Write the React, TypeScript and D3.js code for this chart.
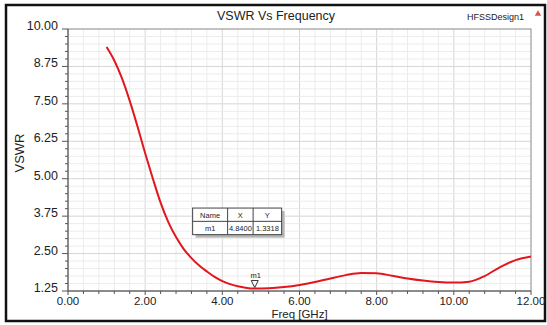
import React, { useRef, useEffect } from "react";
import * as d3 from "d3";

// Curve (Freq in GHz, VSWR)
const freqs = [
  1.0, 1.2, 1.4, 1.6, 1.8, 2.0, 2.2, 2.4, 2.6, 2.8, 3.0, 3.2, 3.4, 3.6, 3.8,
  4.0, 4.2, 4.4, 4.6, 4.84, 5.2, 5.6, 6.0, 6.4, 6.8, 7.2, 7.6, 8.0, 8.4, 8.8,
  9.2, 9.6, 10.0, 10.4, 10.8, 11.2, 11.6, 12.0,
];
const vswr = [
  9.4, 8.95, 8.35, 7.6, 6.75, 5.85, 5.0, 4.2, 3.55, 3.05, 2.65, 2.35, 2.1, 1.9,
  1.72, 1.58, 1.48, 1.41, 1.36, 1.33, 1.34, 1.38, 1.45, 1.55, 1.67, 1.78, 1.85,
  1.84, 1.76, 1.67, 1.6, 1.55, 1.53, 1.56, 1.75, 2.05, 2.28, 2.4,
];

const xTicks = [0, 2, 4, 6, 8, 10, 12];
const yTicks = [1.25, 2.5, 3.75, 5.0, 6.25, 7.5, 8.75, 10.0];

const marker = { name: "m1", x: 4.84, y: 1.3318 };
const tableHeader = ["Name", "X", "Y"];
const tableRow = [marker.name, marker.x.toFixed(4), marker.y.toFixed(4)];

const FONT = "'Liberation Sans', Arial, sans-serif";

export default function App() {
  const svgRef = useRef<SVGSVGElement>(null);

  useEffect(() => {
    if (!svgRef.current) return;
    const svg = d3.select(svgRef.current);
    svg.selectAll("*").remove();

    const width = 547;
    const height = 325;
    const margin = { top: 29, right: 16, bottom: 34, left: 68 };
    const innerWidth = width - margin.left - margin.right;
    const innerHeight = height - margin.top - margin.bottom;

    // outer frame
    svg.append("rect")
      .attr("x", 6).attr("y", 5)
      .attr("width", 539).attr("height", 316)
      .attr("fill", "#fff")
      .attr("stroke", "#111").attr("stroke-width", 2.5);

    const xScale = d3.scaleLinear().domain([0, 12]).range([0, innerWidth]);
    const yScale = d3.scaleLinear().domain([1.25, 10]).range([innerHeight, 0]);

    const g = svg.append("g")
      .attr("transform", `translate(${margin.left},${margin.top})`);

    // grid (minor every 0.4 GHz / 0.25, major every 2 GHz / 1.25)
    const xMinor = d3.range(0, 12.001, 0.4);
    const yMinor = d3.range(1.25, 10.001, 0.25);

    g.selectAll(".xgrid").data(xMinor).enter().append("line")
      .attr("x1", d => xScale(d)).attr("x2", d => xScale(d))
      .attr("y1", 0).attr("y2", innerHeight)
      .attr("stroke", (d, i) => (i % 5 === 0 ? "#d6d6d6" : "#ececec"))
      .attr("stroke-width", 1);

    g.selectAll(".ygrid").data(yMinor).enter().append("line")
      .attr("x1", 0).attr("x2", innerWidth)
      .attr("y1", d => yScale(d)).attr("y2", d => yScale(d))
      .attr("stroke", (d, i) => (i % 5 === 0 ? "#d6d6d6" : "#ececec"))
      .attr("stroke-width", 1);

    // plot border
    g.append("rect")
      .attr("width", innerWidth).attr("height", innerHeight)
      .attr("fill", "none").attr("stroke", "#9a9a9a");

    // axes lines
    g.append("line").attr("x1", 0).attr("x2", 0).attr("y1", 0).attr("y2", innerHeight)
      .attr("stroke", "#555");
    g.append("line").attr("x1", 0).attr("x2", innerWidth).attr("y1", innerHeight).attr("y2", innerHeight)
      .attr("stroke", "#555");

    // y ticks
    g.selectAll(".ytick").data(yMinor).enter().append("line")
      .attr("x1", (d, i) => (i % 5 === 0 ? -6 : -3)).attr("x2", 0)
      .attr("y1", d => yScale(d)).attr("y2", d => yScale(d))
      .attr("stroke", "#555");

    // x ticks
    g.selectAll(".xtick").data(xMinor).enter().append("line")
      .attr("x1", d => xScale(d)).attr("x2", d => xScale(d))
      .attr("y1", innerHeight).attr("y2", (d, i) => innerHeight + (i % 5 === 0 ? 4 : 3))
      .attr("stroke", "#555");

    // tick labels
    g.selectAll(".ylab").data(yTicks).enter().append("text")
      .attr("x", -10).attr("y", d => yScale(d) + 1)
      .attr("text-anchor", "end")
      .style("font-family", FONT).style("font-size", "12.5px").style("fill", "#222")
      .text(d => d.toFixed(2));

    g.selectAll(".xlab").data(xTicks).enter().append("text")
      .attr("x", d => xScale(d)).attr("y", innerHeight + 13.5)
      .attr("text-anchor", "middle")
      .style("font-family", FONT).style("font-size", "11.5px").style("fill", "#222")
      .text(d => d.toFixed(2));

    // axis titles
    g.append("text")
      .attr("x", innerWidth / 2).attr("y", innerHeight + 26.5)
      .attr("text-anchor", "middle")
      .style("font-family", FONT).style("font-size", "11.5px").style("fill", "#222")
      .text("Freq [GHz]");

    g.append("text")
      .attr("transform", "rotate(-90)")
      .attr("x", -innerHeight / 2 + 7).attr("y", -44)
      .attr("text-anchor", "middle")
      .style("font-family", FONT).style("font-size", "13px").style("fill", "#222")
      .text("VSWR");

    // title and design name
    svg.append("text")
      .attr("x", 276).attr("y", 20)
      .attr("text-anchor", "middle")
      .style("font-family", FONT).style("font-size", "12.5px").style("fill", "#222")
      .text("VSWR Vs Frequency");

    svg.append("text")
      .attr("x", 524).attr("y", 20)
      .attr("text-anchor", "end")
      .style("font-family", FONT).style("font-size", "9px").style("fill", "#222")
      .text("HFSSDesign1");

    svg.append("path")
      .attr("d", d3.symbol(d3.symbolTriangle, 18)())
      .attr("transform", "translate(538,14)")
      .attr("fill", "#d9534f");

    // curve
    const pts = freqs.map((f, i) => [f, vswr[i]] as [number, number]);
    const line = d3.line<[number, number]>()
      .x(d => xScale(d[0]))
      .y(d => yScale(d[1]))
      .curve(d3.curveMonotoneX);

    g.append("path")
      .datum(pts)
      .attr("fill", "none")
      .attr("stroke", "#e3161d")
      .attr("stroke-width", 2)
      .attr("d", line);

    // marker m1
    const mx = xScale(marker.x);
    const my = yScale(marker.y);
    g.append("path")
      .attr("d", `M${mx - 3.5},${my - 8}L${mx + 3.5},${my - 8}L${mx},${my - 1}Z`)
      .attr("fill", "#fff").attr("stroke", "#333").attr("stroke-width", 1);
    g.append("text")
      .attr("x", mx + 1).attr("y", my - 11)
      .attr("text-anchor", "middle")
      .style("font-family", FONT).style("font-size", "7.5px").style("fill", "#222")
      .text(marker.name);

    // marker table
    const tx = xScale(3.23), ty = yScale(4.02);
    const colW = [35, 25.5, 28.5];
    const rowH = 13.3;
    const tw = d3.sum(colW);
    const table = g.append("g").attr("transform", `translate(${tx},${ty})`);
    table.append("rect")
      .attr("x", 3).attr("y", 3).attr("width", tw).attr("height", rowH * 2)
      .attr("fill", "#b5b5b5");
    table.append("rect")
      .attr("width", tw).attr("height", rowH * 2)
      .attr("fill", "#fff").attr("stroke", "#444").attr("stroke-width", 1);
    table.append("line")
      .attr("x1", 0).attr("x2", tw).attr("y1", rowH).attr("y2", rowH)
      .attr("stroke", "#444");
    let cx = 0;
    colW.forEach((w, i) => {
      if (i > 0) {
        table.append("line")
          .attr("x1", cx).attr("x2", cx).attr("y1", 0).attr("y2", rowH * 2)
          .attr("stroke", "#444");
      }
      [tableHeader[i], tableRow[i]].forEach((t, r) => {
        table.append("text")
          .attr("x", cx + w / 2).attr("y", r * rowH + 9.5)
          .attr("text-anchor", "middle")
          .style("font-family", FONT).style("font-size", "7.5px").style("fill", "#222")
          .text(t);
      });
      cx += w;
    });
  }, []);

  return (
    <svg
      ref={svgRef}
      width={547}
      height={325}
      style={{ position: "absolute", left: 0, top: 0, background: "#fff" }}
    />
  );
}
